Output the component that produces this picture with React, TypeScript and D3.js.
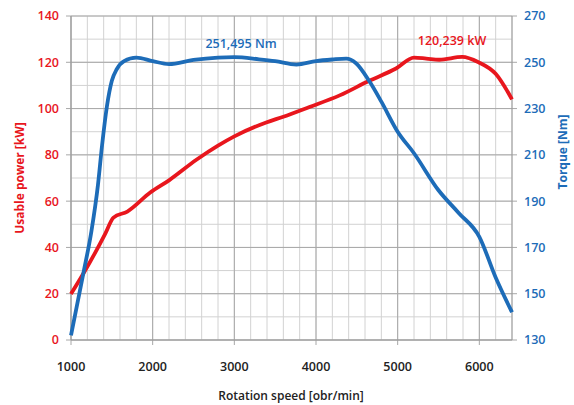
import React from "react";
import * as d3 from "d3";

const rpm = [1000, 1150, 1250, 1330, 1380, 1440, 1500, 1560, 1650, 1800, 2000, 2200, 2500, 2800, 3000, 3300, 3500, 3760, 4000, 4200, 4370, 4490, 4650, 4800, 5000, 5200, 5500, 5750, 6000, 6200, 6400];
const torque = [132, 158.6, 177, 197, 214, 231, 242, 247, 250.5, 252, 250.5, 249.2, 251, 252, 252.2, 251.3, 250.5, 249, 250.5, 251.2, 251.6, 249.6, 242, 233, 220, 210.7, 194.7, 184.8, 174.6, 157, 142];

const powerRpm = [1000, 1150, 1300, 1420, 1520, 1690, 1970, 2200, 2540, 2800, 3000, 3390, 3600, 3920, 4290, 4650, 4980, 5200, 5350, 5510, 5790, 5990, 6200, 6400];
const power = [19.9, 28.6, 38, 46, 52.9, 55.5, 63.7, 69, 78, 84, 88, 94, 96.5, 100.7, 105.7, 112, 117.3, 122, 121.6, 121.1, 122.3, 120, 115, 104];

const xTicks = [1000, 2000, 3000, 4000, 5000, 6000];
const leftTicks = [0, 20, 40, 60, 80, 100, 120, 140];
const rightTicks = [130, 150, 170, 190, 210, 230, 250, 270];

const powerLabel = "120,239 kW";
const torqueLabel = "251,495 Nm";

const RED = "#e8161d";
const BLUE = "#1d6cb8";
const FONT = "'Open Sans', 'Liberation Sans', sans-serif";

export default function App() {
  const L = 71, R = 512, T = 16, B = 340;
  const x = d3.scaleLinear().domain([1000, 6400]).range([L, R]);
  const yL = d3.scaleLinear().domain([0, 140]).range([B, T]);
  const yR = d3.scaleLinear().domain([130, 270]).range([B, T]);

  const minorX = d3.range(1000, 6401, 200);
  const minorY = d3.range(0, 141, 10);

  const powerLine = d3
    .line<number>()
    .x((_, i) => x(powerRpm[i]))
    .y((d) => yL(d))
    .curve(d3.curveMonotoneX)(power) as string;
  const torqueLine = d3
    .line<number>()
    .x((_, i) => x(rpm[i]))
    .y((d) => yR(d))
    .curve(d3.curveMonotoneX)(torque) as string;

  return (
    <svg
      width={574}
      height={405}
      style={{ position: "absolute", left: 0, top: 0, background: "#fff" }}
      fontFamily={FONT}
    >
      {minorX.map((v) => (
        <line key={"mx" + v} x1={x(v)} x2={x(v)} y1={T} y2={B} stroke="#d2d2d2" strokeWidth={1} />
      ))}
      {minorY.map((v) => (
        <line key={"my" + v} x1={L} x2={R} y1={yL(v)} y2={yL(v)} stroke="#d2d2d2" strokeWidth={1} />
      ))}
      {xTicks.map((v) => (
        <line key={"Mx" + v} x1={x(v)} x2={x(v)} y1={T} y2={B + 5} stroke="#a8a8a8" strokeWidth={1} />
      ))}
      {leftTicks.map((v) => (
        <line key={"My" + v} x1={L - 5} x2={R + 5} y1={yL(v)} y2={yL(v)} stroke="#a8a8a8" strokeWidth={1} />
      ))}
      <line x1={L} x2={L} y1={T} y2={B} stroke="#999" />
      <line x1={R} x2={R} y1={T} y2={B} stroke="#999" />
      <line x1={L} x2={R} y1={B} y2={B} stroke="#999" />

      <path d={powerLine} fill="none" stroke={RED} strokeWidth={3.8} strokeLinejoin="round" />
      <path d={torqueLine} fill="none" stroke={BLUE} strokeWidth={3.8} strokeLinejoin="round" />

      {leftTicks.map((v) => (
        <text key={"lt" + v} x={L - 12} y={yL(v)} dy="0.35em" textAnchor="end" fill={RED} fontSize={12.5} fontWeight={600}>
          {v}
        </text>
      ))}
      {rightTicks.map((v) => (
        <text key={"rt" + v} x={R + 12} y={yR(v)} dy="0.35em" textAnchor="start" fill={BLUE} fontSize={12.5} fontWeight={600}>
          {v}
        </text>
      ))}
      {xTicks.map((v) => (
        <text key={"xt" + v} x={x(v)} y={367} dy="0.35em" textAnchor="middle" fill="#222" fontSize={12.5} fontWeight={600}>
          {v}
        </text>
      ))}

      <text x={241} y={44} dy="0.35em" textAnchor="middle" fill={BLUE} fontSize={12.5} fontWeight={600}>
        {torqueLabel}
      </text>
      <text x={452} y={41} dy="0.35em" textAnchor="middle" fill={RED} fontSize={12.5} fontWeight={600}>
        {powerLabel}
      </text>

      <text x={291} y={396} dy="0.35em" textAnchor="middle" fill="#222" fontSize={12} fontWeight={600}>
        Rotation speed [obr/min]
      </text>
      <text transform={`translate(20,178) rotate(-90)`} dy="0.35em" textAnchor="middle" fill={RED} fontSize={12} fontWeight={700}>
        Usable power [kW]
      </text>
      <text transform={`translate(563,152) rotate(-90)`} dy="0.35em" textAnchor="middle" fill={BLUE} fontSize={12} fontWeight={700}>
        Torque [Nm]
      </text>
    </svg>
  );
}
